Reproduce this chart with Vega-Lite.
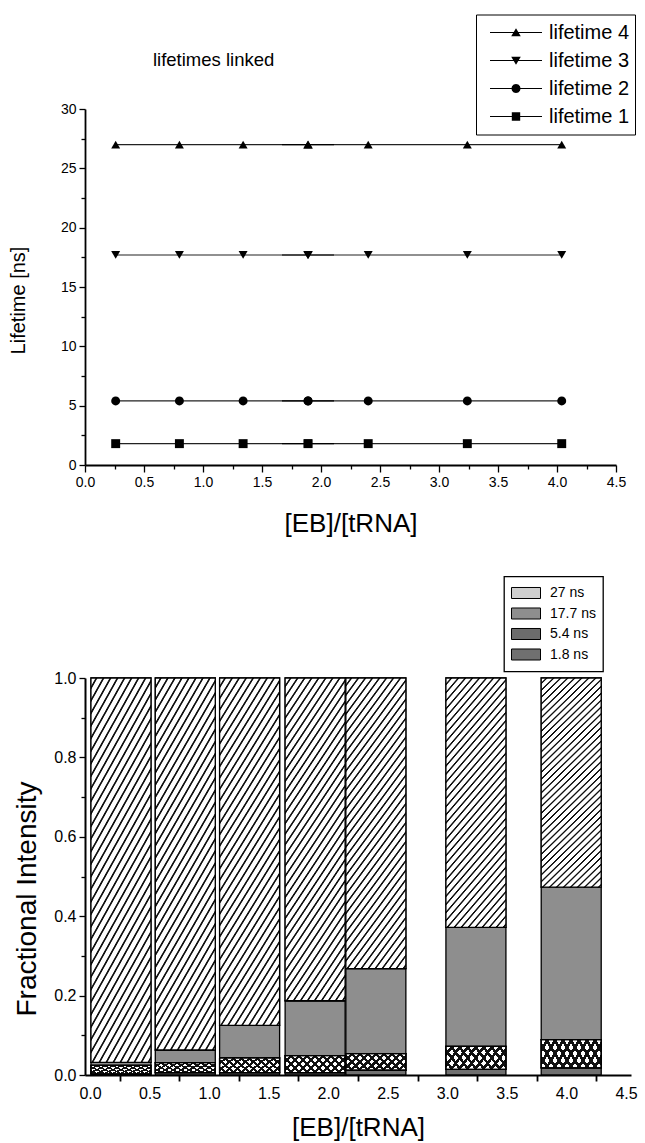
{
  "$schema": "https://vega.github.io/schema/vega-lite/v6.json",
  "background": "white",
  "padding": {"left": 8, "top": 14, "right": 1, "bottom": 3},
  "spacing": 39,
  "config": {
    "font": "Liberation Sans",
    "view": {"stroke": null},
    "axis": {"domainColor": "black", "tickColor": "black", "labelColor": "black", "titleColor": "black", "grid": false, "titleFontWeight": "normal", "domainWidth": 1.8, "tickWidth": 1.3, "labelFlush": false, "labelOverlap": false},
    "legend": {"labelColor": "black"}
  },
  "resolve": {"scale": {"shape": "independent", "color": "independent"}, "legend": {"shape": "independent", "color": "independent"}},
  "vconcat": [
    {
      "width": 531,
      "height": 356,
      "data": {"values": [
        {"x": 0.26, "series": "lifetime 1", "lifetime": 1.8}, {"x": 0.8, "series": "lifetime 1", "lifetime": 1.8}, {"x": 1.34, "series": "lifetime 1", "lifetime": 1.8}, {"x": 1.89, "series": "lifetime 1", "lifetime": 1.8}, {"x": 2.4, "series": "lifetime 1", "lifetime": 1.8}, {"x": 3.24, "series": "lifetime 1", "lifetime": 1.8}, {"x": 4.04, "series": "lifetime 1", "lifetime": 1.8},
        {"x": 0.26, "series": "lifetime 2", "lifetime": 5.4}, {"x": 0.8, "series": "lifetime 2", "lifetime": 5.4}, {"x": 1.34, "series": "lifetime 2", "lifetime": 5.4}, {"x": 1.89, "series": "lifetime 2", "lifetime": 5.4}, {"x": 2.4, "series": "lifetime 2", "lifetime": 5.4}, {"x": 3.24, "series": "lifetime 2", "lifetime": 5.4}, {"x": 4.04, "series": "lifetime 2", "lifetime": 5.4},
        {"x": 0.26, "series": "lifetime 3", "lifetime": 17.7}, {"x": 0.8, "series": "lifetime 3", "lifetime": 17.7}, {"x": 1.34, "series": "lifetime 3", "lifetime": 17.7}, {"x": 1.89, "series": "lifetime 3", "lifetime": 17.7}, {"x": 2.4, "series": "lifetime 3", "lifetime": 17.7}, {"x": 3.24, "series": "lifetime 3", "lifetime": 17.7}, {"x": 4.04, "series": "lifetime 3", "lifetime": 17.7},
        {"x": 0.26, "series": "lifetime 4", "lifetime": 27}, {"x": 0.8, "series": "lifetime 4", "lifetime": 27}, {"x": 1.34, "series": "lifetime 4", "lifetime": 27}, {"x": 1.89, "series": "lifetime 4", "lifetime": 27}, {"x": 2.4, "series": "lifetime 4", "lifetime": 27}, {"x": 3.24, "series": "lifetime 4", "lifetime": 27}, {"x": 4.04, "series": "lifetime 4", "lifetime": 27}
      ]},
      "layer": [
        {
          "mark": {"type": "line", "color": "#222222", "strokeWidth": 1.1},
          "encoding": {
            "x": {"field": "x", "type": "quantitative", "scale": {"domain": [0, 4.5], "nice": false, "zero": false},
                  "axis": {"orient": "bottom", "values": [0, 0.5, 1, 1.5, 2, 2.5, 3, 3.5, 4, 4.5], "format": ".1f", "labelFontSize": 14, "labelPadding": 3, "tickSize": 7, "title": "[EB]/[tRNA]", "titleFontSize": 26, "titlePadding": 21}},
            "y": {"field": "lifetime", "type": "quantitative", "scale": {"domain": [0, 30], "nice": false},
                  "axis": {"orient": "left", "values": [0, 5, 10, 15, 20, 25, 30], "labelFontSize": 14, "labelPadding": 3, "tickSize": 6, "title": "Lifetime [ns]", "titleFontSize": 20, "titlePadding": 32, "titleY": 191}},
            "detail": {"field": "series"}
          }
        },
        {
          "mark": {"type": "point", "filled": true, "size": 80, "color": "black", "opacity": 1},
          "encoding": {
            "x": {"field": "x", "type": "quantitative", "axis": {"orient": "bottom", "values": [0.25, 0.75, 1.25, 1.75, 2.25, 2.75, 3.25, 3.75, 4.25], "labels": false, "domain": false, "tickSize": 4, "title": null}},
            "y": {"field": "lifetime", "type": "quantitative", "axis": {"orient": "left", "values": [2.5, 7.5, 12.5, 17.5, 22.5, 27.5], "labels": false, "domain": false, "tickSize": 4, "title": null}},
            "shape": {"field": "series", "type": "nominal", "scale": {"domain": ["lifetime 4", "lifetime 3", "lifetime 2", "lifetime 1"], "range": ["triangle-up", "triangle-down", "circle", "square"]}, "legend": null}
          }
        },
        {
          "transform": [{"filter": "datum.x == 1.89"}],
          "mark": {"type": "point", "filled": true, "size": 3136, "color": "black", "strokeWidth": 0, "opacity": 1},
          "encoding": {
            "x": {"field": "x", "type": "quantitative", "axis": null},
            "y": {"field": "lifetime", "type": "quantitative", "axis": null},
            "shape": {"field": "series", "type": "nominal",
                      "scale": {"domain": ["lifetime 4", "lifetime 3", "lifetime 2", "lifetime 1"],
                                "range": ["M-0.929,-0.02H0.929V0.02H-0.929ZM0,-0.15L0.171,0.135L-0.171,0.135Z", "M-0.929,-0.02H0.929V0.02H-0.929ZM-0.171,-0.135L0.171,-0.135L0,0.15Z", "M-0.929,-0.02H0.929V0.02H-0.929ZM0.164,0L0.142,0.082L0.082,0.142L0,0.164L-0.082,0.142L-0.142,0.082L-0.164,0L-0.142,-0.082L-0.082,-0.142L0,-0.164L0.082,-0.142L0.142,-0.082Z", "M-0.929,-0.02H0.929V0.02H-0.929ZM-0.15,-0.15H0.15V0.15H-0.15Z"]},
                      "legend": {"orient": "none", "legendX": 391, "legendY": -94.5, "title": null, "padding": 5, "strokeColor": "black", "labelFontSize": 20, "labelOffset": 5, "symbolOffset": 7, "symbolSize": 3136, "symbolFillColor": "black", "symbolStrokeWidth": 0, "symbolOpacity": 1, "clipHeight": 26, "rowPadding": 2,
                                 "encode": {"legend": {"update": {"strokeWidth": {"value": 1.5}}}, "symbols": {"update": {"fill": {"value": "black"}, "opacity": {"value": 1}}}}}}
          }
        },
        {
          "data": {"values": [{}]},
          "mark": {"type": "text", "text": "lifetimes linked", "align": "left", "baseline": "alphabetic", "fontSize": 18.5, "color": "black"},
          "encoding": {
            "x": {"datum": 0.576, "type": "quantitative", "axis": null},
            "y": {"datum": 33.6, "type": "quantitative", "axis": null}
          }
        }
      ],
      "resolve": {"scale": {"shape": "independent"}, "axis": {"x": "independent", "y": "independent"}}
    },
    {
      "width": 546,
      "height": 397,
      "data": {"values": [
        {"x": 0.26, "component": "1.8 ns", "lifetime": 1.8, "fraction": 0.003}, {"x": 0.26, "component": "5.4 ns", "lifetime": 5.4, "fraction": 0.021}, {"x": 0.26, "component": "17.7 ns", "lifetime": 17.7, "fraction": 0.008}, {"x": 0.26, "component": "27 ns", "lifetime": 27, "fraction": 0.968},
        {"x": 0.8, "component": "1.8 ns", "lifetime": 1.8, "fraction": 0.006}, {"x": 0.8, "component": "5.4 ns", "lifetime": 5.4, "fraction": 0.025}, {"x": 0.8, "component": "17.7 ns", "lifetime": 17.7, "fraction": 0.032}, {"x": 0.8, "component": "27 ns", "lifetime": 27, "fraction": 0.937},
        {"x": 1.34, "component": "1.8 ns", "lifetime": 1.8, "fraction": 0.006}, {"x": 1.34, "component": "5.4 ns", "lifetime": 5.4, "fraction": 0.037}, {"x": 1.34, "component": "17.7 ns", "lifetime": 17.7, "fraction": 0.082}, {"x": 1.34, "component": "27 ns", "lifetime": 27, "fraction": 0.875},
        {"x": 1.89, "component": "1.8 ns", "lifetime": 1.8, "fraction": 0.006}, {"x": 1.89, "component": "5.4 ns", "lifetime": 5.4, "fraction": 0.043}, {"x": 1.89, "component": "17.7 ns", "lifetime": 17.7, "fraction": 0.138}, {"x": 1.89, "component": "27 ns", "lifetime": 27, "fraction": 0.813},
        {"x": 2.4, "component": "1.8 ns", "lifetime": 1.8, "fraction": 0.012}, {"x": 2.4, "component": "5.4 ns", "lifetime": 5.4, "fraction": 0.042}, {"x": 2.4, "component": "17.7 ns", "lifetime": 17.7, "fraction": 0.214}, {"x": 2.4, "component": "27 ns", "lifetime": 27, "fraction": 0.732},
        {"x": 3.24, "component": "1.8 ns", "lifetime": 1.8, "fraction": 0.014}, {"x": 3.24, "component": "5.4 ns", "lifetime": 5.4, "fraction": 0.058}, {"x": 3.24, "component": "17.7 ns", "lifetime": 17.7, "fraction": 0.3}, {"x": 3.24, "component": "27 ns", "lifetime": 27, "fraction": 0.628},
        {"x": 4.04, "component": "1.8 ns", "lifetime": 1.8, "fraction": 0.018}, {"x": 4.04, "component": "5.4 ns", "lifetime": 5.4, "fraction": 0.071}, {"x": 4.04, "component": "17.7 ns", "lifetime": 17.7, "fraction": 0.384}, {"x": 4.04, "component": "27 ns", "lifetime": 27, "fraction": 0.527}
      ]},
      "transform": [{"stack": "fraction", "groupby": ["x"], "sort": [{"field": "lifetime", "order": "ascending"}], "as": ["y0", "y1"]}],
      "layer": [
        {
          "mark": {"type": "bar", "width": 60, "stroke": "black", "strokeWidth": 1.3},
          "encoding": {
            "x": {"field": "x", "type": "quantitative", "scale": {"domain": [0, 4.5], "nice": false, "zero": false},
                  "axis": {"orient": "bottom", "values": [0, 0.5, 1, 1.5, 2, 2.5, 3, 3.5, 4, 4.5], "format": ".1f", "ticks": false, "labelFontSize": 16, "labelPadding": 10, "domainWidth": 2, "title": "[EB]/[tRNA]", "titleFontSize": 26, "titlePadding": 13}},
            "y": {"field": "y0", "type": "quantitative", "scale": {"domain": [0, 1], "nice": false},
                  "axis": {"orient": "left", "values": [0, 0.2, 0.4, 0.6, 0.8, 1], "format": ".1f", "labelFontSize": 16, "labelPadding": 3, "tickSize": 6, "domainWidth": 2, "title": "Fractional Intensity", "titleFontSize": 28, "titlePadding": 12, "titleY": 220.5}},
            "y2": {"field": "y1"},
            "color": {"field": "component", "type": "nominal",
                      "scale": {"domain": ["27 ns", "17.7 ns", "5.4 ns", "1.8 ns"], "range": ["#cfcfcf", "#8e8e8e", "#6c6c6c", "#707070"]},
                      "legend": {"orient": "none", "legendX": 419, "legendY": -101.5, "title": null, "padding": 7, "strokeColor": "black", "labelFontSize": 14, "labelOffset": 9, "symbolType": "M-1,-0.38H1V0.38H-1Z", "symbolSize": 841, "symbolStrokeColor": "black", "symbolStrokeWidth": 1, "symbolOpacity": 1, "clipHeight": 19, "rowPadding": 1.5,
                                 "encode": {"legend": {"update": {"strokeWidth": {"value": 1.3}}}}}}
          }
        },
        {
          "transform": [{"filter": "datum.component == '27 ns'"}],
          "mark": {"type": "bar", "width": 60, "stroke": "black", "strokeWidth": 1.3,
                   "fill": {"gradient": "linear", "x1": 0, "y1": 0, "x2": 0.424, "y2": 1.515, "stops": [
                     {"offset": 0, "color": "#ffffff"}, {"offset": 0.012, "color": "#ffffff"}, {"offset": 0.0145, "color": "#111111"}, {"offset": 0.0175, "color": "#111111"},
                     {"offset": 0.02, "color": "#ffffff"}, {"offset": 0.032, "color": "#ffffff"}, {"offset": 0.0345, "color": "#111111"}, {"offset": 0.0375, "color": "#111111"},
                     {"offset": 0.04, "color": "#ffffff"}, {"offset": 0.052, "color": "#ffffff"}, {"offset": 0.0545, "color": "#111111"}, {"offset": 0.0575, "color": "#111111"},
                     {"offset": 0.06, "color": "#ffffff"}, {"offset": 0.072, "color": "#ffffff"}, {"offset": 0.0745, "color": "#111111"}, {"offset": 0.0775, "color": "#111111"},
                     {"offset": 0.08, "color": "#ffffff"}, {"offset": 0.092, "color": "#ffffff"}, {"offset": 0.0945, "color": "#111111"}, {"offset": 0.0975, "color": "#111111"},
                     {"offset": 0.1, "color": "#ffffff"}, {"offset": 0.112, "color": "#ffffff"}, {"offset": 0.1145, "color": "#111111"}, {"offset": 0.1175, "color": "#111111"},
                     {"offset": 0.12, "color": "#ffffff"}, {"offset": 0.132, "color": "#ffffff"}, {"offset": 0.1345, "color": "#111111"}, {"offset": 0.1375, "color": "#111111"},
                     {"offset": 0.14, "color": "#ffffff"}, {"offset": 0.152, "color": "#ffffff"}, {"offset": 0.1545, "color": "#111111"}, {"offset": 0.1575, "color": "#111111"},
                     {"offset": 0.16, "color": "#ffffff"}, {"offset": 0.172, "color": "#ffffff"}, {"offset": 0.1745, "color": "#111111"}, {"offset": 0.1775, "color": "#111111"},
                     {"offset": 0.18, "color": "#ffffff"}, {"offset": 0.192, "color": "#ffffff"}, {"offset": 0.1945, "color": "#111111"}, {"offset": 0.1975, "color": "#111111"},
                     {"offset": 0.2, "color": "#ffffff"}, {"offset": 0.212, "color": "#ffffff"}, {"offset": 0.2145, "color": "#111111"}, {"offset": 0.2175, "color": "#111111"},
                     {"offset": 0.22, "color": "#ffffff"}, {"offset": 0.232, "color": "#ffffff"}, {"offset": 0.2345, "color": "#111111"}, {"offset": 0.2375, "color": "#111111"},
                     {"offset": 0.24, "color": "#ffffff"}, {"offset": 0.252, "color": "#ffffff"}, {"offset": 0.2545, "color": "#111111"}, {"offset": 0.2575, "color": "#111111"},
                     {"offset": 0.26, "color": "#ffffff"}, {"offset": 0.272, "color": "#ffffff"}, {"offset": 0.2745, "color": "#111111"}, {"offset": 0.2775, "color": "#111111"},
                     {"offset": 0.28, "color": "#ffffff"}, {"offset": 0.292, "color": "#ffffff"}, {"offset": 0.2945, "color": "#111111"}, {"offset": 0.2975, "color": "#111111"},
                     {"offset": 0.3, "color": "#ffffff"}, {"offset": 0.312, "color": "#ffffff"}, {"offset": 0.3145, "color": "#111111"}, {"offset": 0.3175, "color": "#111111"},
                     {"offset": 0.32, "color": "#ffffff"}, {"offset": 0.332, "color": "#ffffff"}, {"offset": 0.3345, "color": "#111111"}, {"offset": 0.3375, "color": "#111111"},
                     {"offset": 0.34, "color": "#ffffff"}, {"offset": 0.352, "color": "#ffffff"}, {"offset": 0.3545, "color": "#111111"}, {"offset": 0.3575, "color": "#111111"},
                     {"offset": 0.36, "color": "#ffffff"}, {"offset": 0.372, "color": "#ffffff"}, {"offset": 0.3745, "color": "#111111"}, {"offset": 0.3775, "color": "#111111"},
                     {"offset": 0.38, "color": "#ffffff"}, {"offset": 0.392, "color": "#ffffff"}, {"offset": 0.3945, "color": "#111111"}, {"offset": 0.3975, "color": "#111111"},
                     {"offset": 0.4, "color": "#ffffff"}, {"offset": 0.412, "color": "#ffffff"}, {"offset": 0.4145, "color": "#111111"}, {"offset": 0.4175, "color": "#111111"},
                     {"offset": 0.42, "color": "#ffffff"}, {"offset": 0.432, "color": "#ffffff"}, {"offset": 0.4345, "color": "#111111"}, {"offset": 0.4375, "color": "#111111"},
                     {"offset": 0.44, "color": "#ffffff"}, {"offset": 0.452, "color": "#ffffff"}, {"offset": 0.4545, "color": "#111111"}, {"offset": 0.4575, "color": "#111111"},
                     {"offset": 0.46, "color": "#ffffff"}, {"offset": 0.472, "color": "#ffffff"}, {"offset": 0.4745, "color": "#111111"}, {"offset": 0.4775, "color": "#111111"},
                     {"offset": 0.48, "color": "#ffffff"}, {"offset": 0.492, "color": "#ffffff"}, {"offset": 0.4945, "color": "#111111"}, {"offset": 0.4975, "color": "#111111"},
                     {"offset": 0.5, "color": "#ffffff"}, {"offset": 0.512, "color": "#ffffff"}, {"offset": 0.5145, "color": "#111111"}, {"offset": 0.5175, "color": "#111111"},
                     {"offset": 0.52, "color": "#ffffff"}, {"offset": 0.532, "color": "#ffffff"}, {"offset": 0.5345, "color": "#111111"}, {"offset": 0.5375, "color": "#111111"},
                     {"offset": 0.54, "color": "#ffffff"}, {"offset": 0.552, "color": "#ffffff"}, {"offset": 0.5545, "color": "#111111"}, {"offset": 0.5575, "color": "#111111"},
                     {"offset": 0.56, "color": "#ffffff"}, {"offset": 0.572, "color": "#ffffff"}, {"offset": 0.5745, "color": "#111111"}, {"offset": 0.5775, "color": "#111111"},
                     {"offset": 0.58, "color": "#ffffff"}, {"offset": 0.592, "color": "#ffffff"}, {"offset": 0.5945, "color": "#111111"}, {"offset": 0.5975, "color": "#111111"},
                     {"offset": 0.6, "color": "#ffffff"}, {"offset": 0.612, "color": "#ffffff"}, {"offset": 0.6145, "color": "#111111"}, {"offset": 0.6175, "color": "#111111"},
                     {"offset": 0.62, "color": "#ffffff"}, {"offset": 0.632, "color": "#ffffff"}, {"offset": 0.6345, "color": "#111111"}, {"offset": 0.6375, "color": "#111111"},
                     {"offset": 0.64, "color": "#ffffff"}, {"offset": 0.652, "color": "#ffffff"}, {"offset": 0.6545, "color": "#111111"}, {"offset": 0.6575, "color": "#111111"},
                     {"offset": 0.66, "color": "#ffffff"}, {"offset": 0.672, "color": "#ffffff"}, {"offset": 0.6745, "color": "#111111"}, {"offset": 0.6775, "color": "#111111"},
                     {"offset": 0.68, "color": "#ffffff"}, {"offset": 0.692, "color": "#ffffff"}, {"offset": 0.6945, "color": "#111111"}, {"offset": 0.6975, "color": "#111111"},
                     {"offset": 0.7, "color": "#ffffff"}, {"offset": 0.712, "color": "#ffffff"}, {"offset": 0.7145, "color": "#111111"}, {"offset": 0.7175, "color": "#111111"},
                     {"offset": 0.72, "color": "#ffffff"}, {"offset": 0.732, "color": "#ffffff"}, {"offset": 0.7345, "color": "#111111"}, {"offset": 0.7375, "color": "#111111"},
                     {"offset": 0.74, "color": "#ffffff"}, {"offset": 0.752, "color": "#ffffff"}, {"offset": 0.7545, "color": "#111111"}, {"offset": 0.7575, "color": "#111111"},
                     {"offset": 0.76, "color": "#ffffff"}, {"offset": 0.772, "color": "#ffffff"}, {"offset": 0.7745, "color": "#111111"}, {"offset": 0.7775, "color": "#111111"},
                     {"offset": 0.78, "color": "#ffffff"}, {"offset": 0.792, "color": "#ffffff"}, {"offset": 0.7945, "color": "#111111"}, {"offset": 0.7975, "color": "#111111"},
                     {"offset": 0.8, "color": "#ffffff"}
                   ]}},
          "encoding": {
            "x": {"field": "x", "type": "quantitative", "axis": {"orient": "bottom", "values": [0.25, 0.75, 1.25, 1.75, 2.25, 2.75, 3.25, 3.75, 4.25], "labels": false, "domain": false, "tickSize": 6, "tickWidth": 1.8, "title": null}},
            "y": {"field": "y0", "type": "quantitative", "axis": {"orient": "left", "values": [0.1, 0.3, 0.5, 0.7, 0.9], "labels": false, "domain": false, "tickSize": 4, "title": null}},
            "y2": {"field": "y1"}
          }
        },
        {
          "transform": [{"filter": "datum.component == '5.4 ns'"}],
          "mark": {"type": "bar", "width": 60, "stroke": "black", "strokeWidth": 1.3,
                   "fill": {"gradient": "linear", "x1": 0, "y1": 0, "x2": 1.232, "y2": 0.352, "stops": [
                     {"offset": 0, "color": "#ffffff"}, {"offset": 0.06, "color": "#ffffff"}, {"offset": 0.06, "color": "#111111"}, {"offset": 0.1, "color": "#111111"},
                     {"offset": 0.1, "color": "#ffffff"}, {"offset": 0.16, "color": "#ffffff"}, {"offset": 0.16, "color": "#111111"}, {"offset": 0.2, "color": "#111111"},
                     {"offset": 0.2, "color": "#ffffff"}, {"offset": 0.26, "color": "#ffffff"}, {"offset": 0.26, "color": "#111111"}, {"offset": 0.3, "color": "#111111"},
                     {"offset": 0.3, "color": "#ffffff"}, {"offset": 0.36, "color": "#ffffff"}, {"offset": 0.36, "color": "#111111"}, {"offset": 0.4, "color": "#111111"},
                     {"offset": 0.4, "color": "#ffffff"}, {"offset": 0.46, "color": "#ffffff"}, {"offset": 0.46, "color": "#111111"}, {"offset": 0.5, "color": "#111111"},
                     {"offset": 0.5, "color": "#ffffff"}, {"offset": 0.56, "color": "#ffffff"}, {"offset": 0.56, "color": "#111111"}, {"offset": 0.6, "color": "#111111"},
                     {"offset": 0.6, "color": "#ffffff"}, {"offset": 0.66, "color": "#ffffff"}, {"offset": 0.66, "color": "#111111"}, {"offset": 0.7, "color": "#111111"},
                     {"offset": 0.7, "color": "#ffffff"}, {"offset": 0.76, "color": "#ffffff"}, {"offset": 0.76, "color": "#111111"}, {"offset": 0.8, "color": "#111111"},
                     {"offset": 0.8, "color": "#ffffff"}, {"offset": 0.86, "color": "#ffffff"}, {"offset": 0.86, "color": "#111111"}, {"offset": 0.9, "color": "#111111"},
                     {"offset": 0.9, "color": "#ffffff"}, {"offset": 0.96, "color": "#ffffff"}, {"offset": 0.96, "color": "#111111"}, {"offset": 1, "color": "#111111"}
                   ]}},
          "encoding": {
            "x": {"field": "x", "type": "quantitative", "axis": null},
            "y": {"field": "y0", "type": "quantitative", "axis": null},
            "y2": {"field": "y1"}
          }
        },
        {
          "transform": [{"filter": "datum.component == '5.4 ns'"}],
          "mark": {"type": "bar", "width": 60, "stroke": "black", "strokeWidth": 1.3,
                   "fill": {"gradient": "linear", "x1": 0, "y1": 1, "x2": 1.232, "y2": 0.648, "stops": [
                     {"offset": 0, "color": "rgba(0,0,0,0)"}, {"offset": 0.06, "color": "rgba(0,0,0,0)"}, {"offset": 0.06, "color": "#111111"}, {"offset": 0.1, "color": "#111111"},
                     {"offset": 0.1, "color": "rgba(0,0,0,0)"}, {"offset": 0.16, "color": "rgba(0,0,0,0)"}, {"offset": 0.16, "color": "#111111"}, {"offset": 0.2, "color": "#111111"},
                     {"offset": 0.2, "color": "rgba(0,0,0,0)"}, {"offset": 0.26, "color": "rgba(0,0,0,0)"}, {"offset": 0.26, "color": "#111111"}, {"offset": 0.3, "color": "#111111"},
                     {"offset": 0.3, "color": "rgba(0,0,0,0)"}, {"offset": 0.36, "color": "rgba(0,0,0,0)"}, {"offset": 0.36, "color": "#111111"}, {"offset": 0.4, "color": "#111111"},
                     {"offset": 0.4, "color": "rgba(0,0,0,0)"}, {"offset": 0.46, "color": "rgba(0,0,0,0)"}, {"offset": 0.46, "color": "#111111"}, {"offset": 0.5, "color": "#111111"},
                     {"offset": 0.5, "color": "rgba(0,0,0,0)"}, {"offset": 0.56, "color": "rgba(0,0,0,0)"}, {"offset": 0.56, "color": "#111111"}, {"offset": 0.6, "color": "#111111"},
                     {"offset": 0.6, "color": "rgba(0,0,0,0)"}, {"offset": 0.66, "color": "rgba(0,0,0,0)"}, {"offset": 0.66, "color": "#111111"}, {"offset": 0.7, "color": "#111111"},
                     {"offset": 0.7, "color": "rgba(0,0,0,0)"}, {"offset": 0.76, "color": "rgba(0,0,0,0)"}, {"offset": 0.76, "color": "#111111"}, {"offset": 0.8, "color": "#111111"},
                     {"offset": 0.8, "color": "rgba(0,0,0,0)"}, {"offset": 0.86, "color": "rgba(0,0,0,0)"}, {"offset": 0.86, "color": "#111111"}, {"offset": 0.9, "color": "#111111"},
                     {"offset": 0.9, "color": "rgba(0,0,0,0)"}, {"offset": 0.96, "color": "rgba(0,0,0,0)"}, {"offset": 0.96, "color": "#111111"}, {"offset": 1, "color": "#111111"}
                   ]}},
          "encoding": {
            "x": {"field": "x", "type": "quantitative", "axis": null},
            "y": {"field": "y0", "type": "quantitative", "axis": null},
            "y2": {"field": "y1"}
          }
        }
      ],
      "resolve": {"axis": {"x": "independent", "y": "independent"}}
    }
  ]
}
